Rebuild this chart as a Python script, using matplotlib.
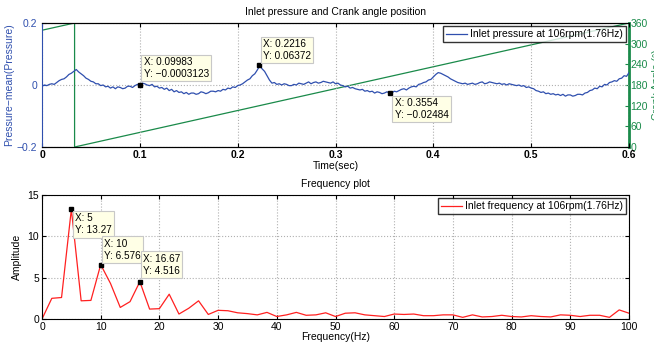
import matplotlib
matplotlib.use('Agg')
import matplotlib.pyplot as plt

plt.rcParams['font.family'] = ['Liberation Sans', 'DejaVu Sans']
plt.rcParams['axes.unicode_minus'] = True

# ---------------- data ----------------
# pressure sampled every 2.5 ms from 0 to 0.6 s (values read off the picture)
time_s = [round(i * 0.0025, 4) for i in range(241)]
pressure = [
    -0.004, 0.000, -0.002, 0.002, 0.004, 0.002, 0.008, 0.014, 0.018, 0.020,
    0.026, 0.034, 0.038, 0.044, 0.050, 0.042, 0.036, 0.030, 0.022, 0.018,
    0.012, 0.010, 0.004, 0.004, -0.002, 0.000, -0.006, -0.004, -0.010, -0.006,
    -0.012, -0.006, -0.008, -0.012, -0.010, -0.004, -0.004, -0.008, -0.002, 0.002,
    0.000, 0.006, 0.004, 0.000, -0.002, 0.002, -0.006, -0.004, -0.010, -0.008,
    -0.014, -0.010, -0.018, -0.014, -0.022, -0.018, -0.024, -0.022, -0.028, -0.024,
    -0.030, -0.026, -0.026, -0.030, -0.028, -0.022, -0.024, -0.028, -0.025, -0.020,
    -0.020, -0.022, -0.018, -0.020, -0.014, -0.016, -0.010, -0.012, -0.006, -0.008,
    -0.002, 0.000, 0.004, 0.010, 0.016, 0.020, 0.030, 0.036, 0.048, 0.062,
    0.052, 0.044, 0.030, 0.016, 0.006, 0.008, 0.002, 0.004, 0.000, 0.004,
    0.002, -0.002, -0.002, 0.002, 0.000, 0.006, 0.004, 0.002, 0.006, 0.010,
    0.004, 0.008, 0.010, 0.006, 0.008, 0.012, 0.010, 0.008, 0.006, 0.010,
    0.004, 0.006, 0.000, -0.002, -0.006, -0.004, -0.010, -0.008, -0.012, -0.014,
    -0.016, -0.014, -0.020, -0.018, -0.022, -0.020, -0.026, -0.022, -0.024, -0.028,
    -0.026, -0.022, -0.025, -0.026, -0.020, -0.022, -0.018, -0.014, -0.012, -0.016,
    -0.010, -0.006, -0.004, -0.006, 0.002, 0.004, 0.008, 0.010, 0.016, 0.018,
    0.026, 0.034, 0.040, 0.038, 0.034, 0.030, 0.026, 0.020, 0.016, 0.012,
    0.008, 0.006, 0.004, 0.006, 0.002, 0.004, 0.006, 0.002, 0.004, 0.008,
    0.010, 0.004, 0.006, 0.010, 0.008, 0.006, 0.004, 0.006, 0.002, 0.004,
    0.000, 0.004, 0.002, 0.000, -0.002, 0.000, -0.004, -0.002, -0.008, -0.006,
    -0.010, -0.012, -0.018, -0.020, -0.024, -0.022, -0.028, -0.026, -0.030, -0.028,
    -0.032, -0.030, -0.034, -0.030, -0.036, -0.032, -0.032, -0.036, -0.034, -0.030,
    -0.030, -0.032, -0.026, -0.024, -0.018, -0.016, -0.010, -0.012, -0.004, -0.006,
    0.002, 0.000, 0.008, 0.010, 0.014, 0.012, 0.020, 0.022, 0.030, 0.028,
    0.040]

crank_time = [0.0, 0.0333, 0.0333, 0.6]
crank_angle = [339, 360, 0, 360]

freq_hz = [0, 1.67, 3.33, 5, 6.67, 8.33, 10, 11.67, 13.33, 15,
           16.67, 18.33, 20, 21.67, 23.33, 25, 26.67, 28.33, 30, 31.67,
           33.33, 35, 36.67, 38.33, 40, 41.67, 43.33, 45, 46.67, 48.33,
           50, 51.67, 53.33, 55, 56.67, 58.33, 60, 61.67, 63.33, 65,
           66.67, 68.33, 70, 71.67, 73.33, 75, 76.67, 78.33, 80, 81.67,
           83.33, 85, 86.67, 88.33, 90, 91.67, 93.33, 95, 96.67, 98.33, 100]
amplitude = [0, 2.5, 2.6, 13.27, 2.2, 2.25, 6.576, 4.3, 1.4, 2.1,
             4.516, 1.2, 1.25, 3.0, 0.6, 1.3, 2.2, 0.55, 1.05, 1.0,
             0.75, 0.65, 0.5, 0.8, 0.3, 0.5, 0.8, 0.45, 0.5, 0.75,
             0.3, 0.7, 0.75, 0.5, 0.4, 0.3, 0.6, 0.55, 0.6, 0.4,
             0.4, 0.5, 0.5, 0.2, 0.5, 0.25, 0.3, 0.45, 0.3, 0.25,
             0.4, 0.3, 0.25, 0.5, 0.45, 0.3, 0.45, 0.45, 0.2, 1.1, 0.7]

top_tips = [(0.09983, -0.0003123, 'X: 0.09983\nY: \u22120.0003123', (4, 6), 'bottom'),
            (0.2216, 0.06372, 'X: 0.2216\nY: 0.06372', (4, 4), 'bottom'),
            (0.3554, -0.02484, 'X: 0.3554\nY: \u22120.02484', (5, -5), 'top')]
bot_tips = [(5, 13.27, 'X: 5\nY: 13.27', (4, -4), 'top'),
            (10, 6.576, 'X: 10\nY: 6.576', (3, 4), 'bottom'),
            (16.67, 4.516, 'X: 16.67\nY: 4.516', (3, 6), 'bottom')]

# ---------------- style ----------------
BLUE = '#2f4fae'
GREEN = '#1a8a4a'
RED = '#ff2020'
W, H = 654, 342
FS = 7.5
TFS = 7.2

fig = plt.figure(figsize=(W / 100, H / 100), dpi=100)
ax1 = fig.add_axes([42 / W, 1 - 147 / H, 587 / W, 124 / H])
ax3 = fig.add_axes([42 / W, 1 - 319 / H, 587 / W, 124 / H])


def tip(ax, x, y, txt, off, va):
    ax.plot([x], [y], marker='s', color='black', markersize=3, zorder=6)
    ax.annotate(txt, xy=(x, y), xytext=off, textcoords='offset pixels',
                ha='left', va=va, fontsize=TFS, linespacing=1.25, zorder=7,
                bbox=dict(boxstyle='square,pad=0.22', fc='#ffffe6', ec='#c8c8c8', lw=0.8))


# ---------- top plot ----------
ax1.plot(time_s, pressure, color=BLUE, lw=0.9, label='Inlet pressure at 106rpm(1.76Hz)', zorder=4)
ax1.set_xlim(0, 0.6)
ax1.set_ylim(-0.2, 0.2)
ax1.set_xticks([0, 0.1, 0.2, 0.3, 0.4, 0.5, 0.6])
ax1.set_xticklabels(['0', '0.1', '0.2', '0.3', '0.4', '0.5', '0.6'], fontweight='bold')
ax1.set_yticks([-0.2, 0, 0.2])
ax1.set_yticklabels(['\u22120.2', '0', '0.2'])
ax1.tick_params(axis='y', colors=BLUE, labelsize=FS, direction='in', length=3)
ax1.tick_params(axis='x', labelsize=FS, direction='in', length=3, top=True, pad=2)
ax1.grid(True, linestyle=':', color='#b0b0b0', lw=0.8)
ax1.spines['left'].set_color(BLUE)
ax1.spines['right'].set_visible(False)
ax1.set_xlabel('Time(sec)', fontsize=FS, labelpad=1)
ax1.set_ylabel('Pressure\u2212mean(Pressure)', fontsize=FS, color=BLUE, labelpad=2)
ax1.set_title('Inlet pressure and Crank angle position', fontsize=FS, pad=6)
for (x, y, t, o, v) in top_tips:
    tip(ax1, x, y, t, o, v)
leg = ax1.legend(loc='upper right', fontsize=FS, frameon=True, fancybox=False,
                 handlelength=2.0, borderpad=0.3, handletextpad=0.3, borderaxespad=0.3)
leg.get_frame().set_edgecolor('black')
leg.get_frame().set_linewidth(1.0)
leg.set_zorder(10)

ax2 = ax1.twinx()
ax2.plot(crank_time, crank_angle, color=GREEN, lw=0.9, zorder=3)
ax2.set_ylim(0, 360)
ax2.set_yticks([0, 60, 120, 180, 240, 300, 360])
ax2.tick_params(axis='y', colors=GREEN, labelsize=FS, direction='in', length=3, pad=1)
ax2.spines['right'].set_color(GREEN)
ax2.spines['right'].set_linewidth(2)
ax2.spines['left'].set_visible(False)
ax2.set_ylabel('Crank Angle (\u00b0)', fontsize=FS, color=GREEN, labelpad=3)
ax1.set_zorder(ax2.get_zorder() + 1)
ax1.patch.set_visible(False)

# ---------- bottom plot ----------
ax3.plot(freq_hz, amplitude, color=RED, lw=0.9, label='Inlet frequency at 106rpm(1.76Hz)')
ax3.set_xlim(0, 100)
ax3.set_ylim(0, 15)
ax3.set_xticks(range(0, 101, 10))
ax3.set_yticks([0, 5, 10, 15])
ax3.tick_params(labelsize=FS, direction='in', length=3, top=True, right=True, pad=2)
ax3.grid(True, linestyle=':', color='#b0b0b0', lw=0.8)
ax3.set_xlabel('Frequency(Hz)', fontsize=FS, labelpad=0)
ax3.set_ylabel('Amplitude', fontsize=FS, labelpad=4)
ax3.set_title('Frequency plot', fontsize=FS, pad=6)
for (x, y, t, o, v) in bot_tips:
    tip(ax3, x, y, t, o, v)
leg2 = ax3.legend(loc='upper right', fontsize=FS, frameon=True, fancybox=False,
                  handlelength=2.0, borderpad=0.3, handletextpad=0.3, borderaxespad=0.3)
leg2.get_frame().set_edgecolor('black')
leg2.get_frame().set_linewidth(1.0)

fig.savefig('out.png', dpi=100)
